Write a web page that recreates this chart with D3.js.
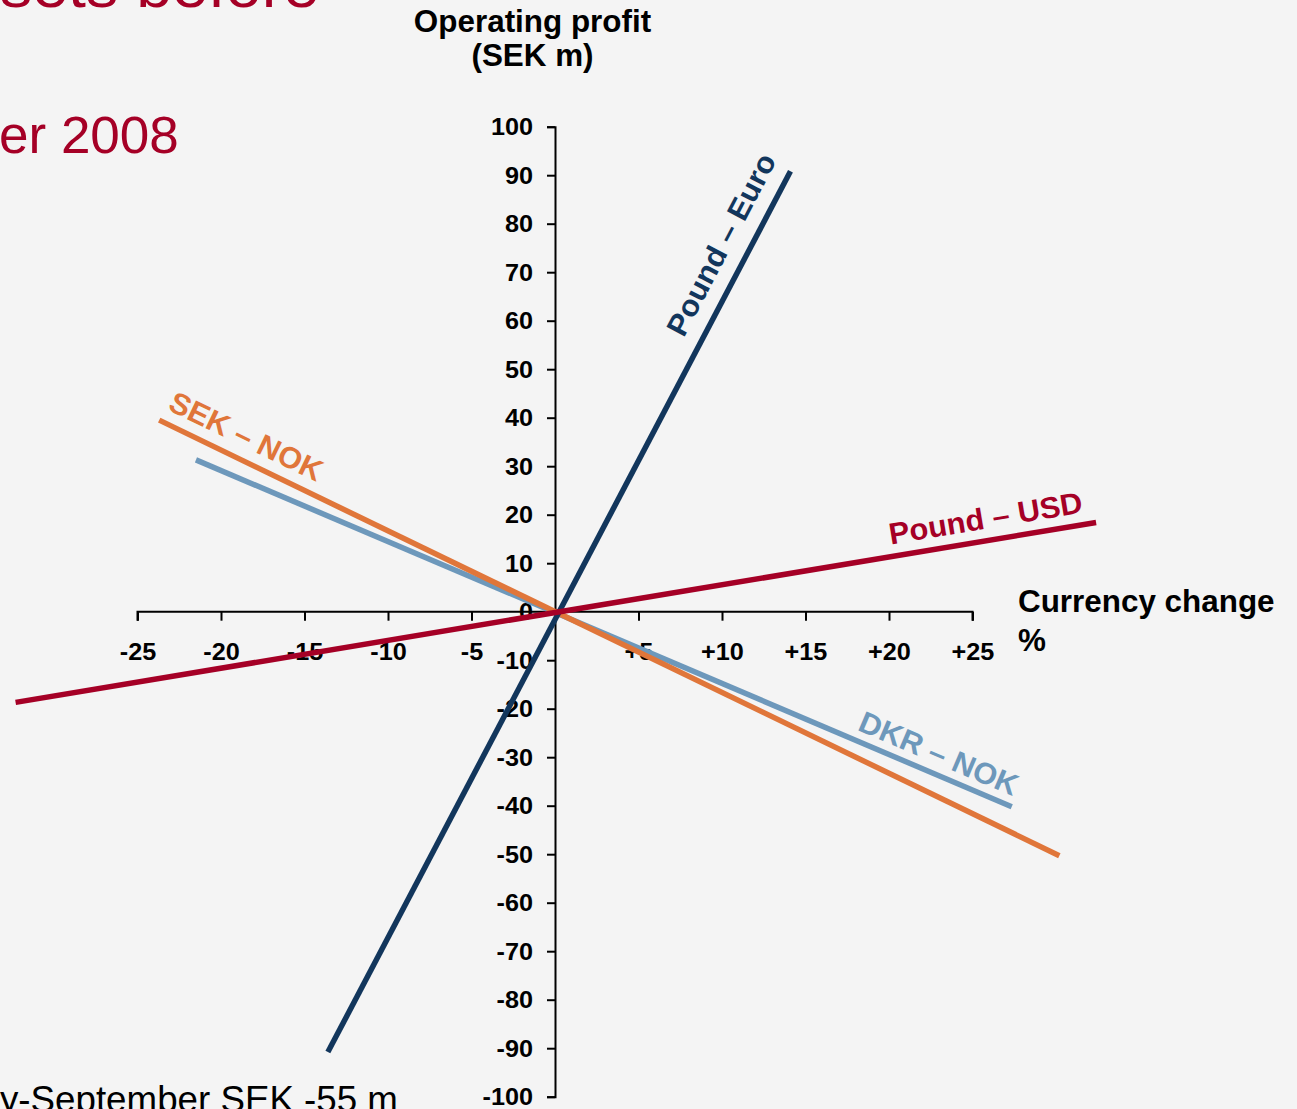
<!DOCTYPE html>
<html>
<head>
<meta charset="utf-8">
<script src="https://cdn.jsdelivr.net/npm/d3@7"></script>
<style>
  html, body { margin: 0; padding: 0; background: #f4f4f4; }
  svg { display: block; font-family: "Liberation Sans", Arial, Helvetica, sans-serif; }
</style>
</head>
<body>
<svg id="chart" width="1297" height="1109"></svg>
<script>
// Sensitivity of operating profit (SEK m) to a currency change (%)
const seriesNames = ["DKR – NOK", "SEK – NOK", "Pound – Euro", "Pound – USD"];
const seriesColors = ["#6d98bb", "#e0763a", "#12365c", "#a50026"];
// each series is a straight line given by its two end points
const currencyChange = [[-21.5, 27.35], [-23.7, 30.2], [-13.6, 14.1], [-32.3, 32.4]];
const profitImpact   = [[31.3, -40.2], [39.5, -50.3], [-90.8, 90.8], [-18.7, 18.4]];

const xTickValues = [-25, -20, -15, -10, -5, 5, 10, 15, 20, 25];
const yTickValues = [100, 90, 80, 70, 60, 50, 40, 30, 20, 10, 0,
                     -10, -20, -30, -40, -50, -60, -70, -80, -90, -100];

const titleText = "sets before";
const subtitleText = "er 2008";
const footText = "y-September SEK -55 m";

// where each series name sits along its line (x in %) and how far above it (px)
const labelPlacement = {
  "DKR – NOK":    { at: 22.5,  offset: -10 },
  "SEK – NOK":    { at: -19.1, offset: -13 },
  "Pound – Euro": { at: 11.4,  offset: -17 },
  "Pound – USD":  { at: 26.0,  offset: -12 }
};

const W = 1297, H = 1109;
const STRETCH = 1.03;
const svg = d3.select("#chart");

svg.append("rect").attr("width", W).attr("height", H).attr("fill", "#f4f4f4");

const x = d3.scaleLinear().domain([-25, 25]).range([137.5, 972.5]);
const y = d3.scaleLinear().domain([-100, 100]).range([1096.7, 126.7]);

const signed = d => (d > 0 ? "+" + d : d < 0 ? "-" + Math.abs(d) : "0");
const plain = d => (d < 0 ? "-" + Math.abs(d) : String(d));

// slide headings (partly outside the visible area)
svg.append("text")
  .attr("transform", `translate(0,7) scale(1.04,1)`)
  .attr("font-size", 62).attr("fill", "#a50026")
  .text(titleText);
svg.append("text")
  .attr("transform", `translate(-1,153) scale(1.04,1)`)
  .attr("font-size", 51).attr("fill", "#a50026")
  .text(subtitleText);
svg.append("text")
  .attr("transform", `translate(0,1112) scale(1.02,1)`)
  .attr("font-size", 36).attr("fill", "#000")
  .text(footText);

// axes crossing at the origin
const xAxis = svg.append("g")
  .attr("transform", `translate(0,${y(0)})`)
  .call(d3.axisBottom(x).tickValues(xTickValues).tickFormat(signed)
        .tickSize(9).tickSizeOuter(9).tickPadding(22));
const yAxis = svg.append("g")
  .attr("transform", `translate(${x(0)},0)`)
  .call(d3.axisLeft(y).tickValues(yTickValues).tickFormat(plain)
        .tickSize(8).tickSizeOuter(8).tickPadding(13.3));

[xAxis, yAxis].forEach(g => {
  g.selectAll(".domain").attr("stroke", "#000").attr("stroke-width", 2);
  g.selectAll(".tick line").attr("stroke", "#000").attr("stroke-width", 2);
  g.selectAll(".tick text")
    .attr("font-family", "Liberation Sans, Arial, sans-serif")
    .attr("font-size", 24.5).attr("font-weight", "bold").attr("fill", "#000")
    .attr("transform", `scale(${STRETCH},1)`);
});
xAxis.select(".domain").attr("d", `M${x(-25)},9V0H${x(25)}V9`);

// axis titles
const yTitle = svg.append("g").attr("font-size", 30.5).attr("font-weight", "bold");
[["Operating profit", 32], ["(SEK m)", 66]].forEach(([t, by]) => {
  yTitle.append("text")
    .attr("transform", `translate(532.5,${by}) scale(${STRETCH},1)`)
    .attr("text-anchor", "middle").text(t);
});
const xTitle = svg.append("g").attr("font-size", 30.5).attr("font-weight", "bold");
[["Currency change", 612], ["%", 651]].forEach(([t, by]) => {
  xTitle.append("text")
    .attr("transform", `translate(1018,${by}) scale(${STRETCH},1)`)
    .text(t);
});

// sensitivity lines
const line = d3.line().x(d => x(d[0])).y(d => y(d[1]));
seriesNames.forEach((name, i) => {
  const pts = currencyChange[i].map((c, j) => [c, profitImpact[i][j]]);
  svg.append("path")
    .attr("d", line(pts))
    .attr("fill", "none")
    .attr("stroke", seriesColors[i])
    .attr("stroke-width", 5.5)
    .attr("stroke-linecap", "butt");
});

// series names laid along their lines
seriesNames.forEach((name, i) => {
  const [c0, c1] = currencyChange[i];
  const [p0, p1] = profitImpact[i];
  const along = d3.scaleLinear().domain([c0, c1]).range([p0, p1]);
  const place = labelPlacement[name];
  const px = x(place.at), py = y(along(place.at));
  const angle = Math.atan2(y(p1) - y(p0), x(c1) - x(c0)) * 180 / Math.PI;
  svg.append("g")
    .attr("transform", `translate(${px},${py}) rotate(${angle})`)
    .append("text")
    .attr("transform", `translate(0,${place.offset}) scale(${STRETCH},1)`)
    .attr("text-anchor", "middle")
    .attr("font-size", 30).attr("font-weight", "bold")
    .attr("fill", seriesColors[i])
    .text(name);
});
</script>
</body>
</html>
